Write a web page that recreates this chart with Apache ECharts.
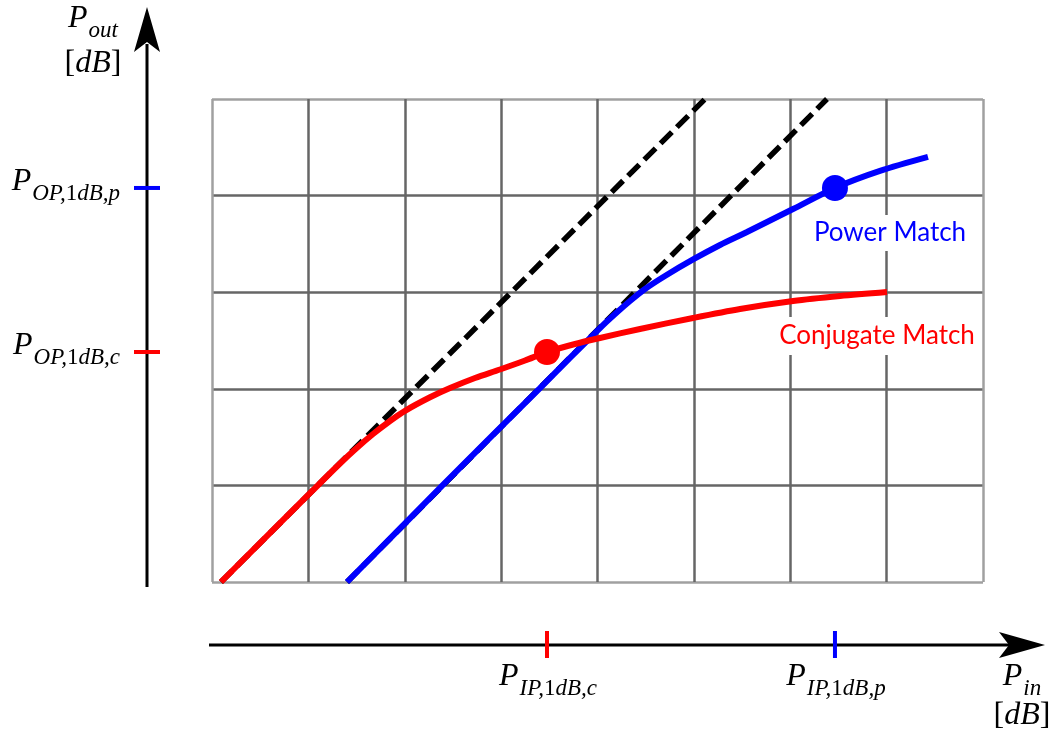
<!DOCTYPE html>
<html>
<head>
<meta charset="utf-8">
<script src="https://cdn.jsdelivr.net/npm/echarts@6/dist/echarts.min.js"></script>
<style>
html, body { margin: 0; padding: 0; background: #fff; }
#chart { width: 1053px; height: 738px; }
</style>
</head>
<body>
<div id="chart"></div>
<script>
// Output power vs. input power for two matching conditions (grid units).
const conjX = [0.093, 1.048, 1.328, 1.484, 1.671, 1.847, 2.003, 2.262, 2.470, 2.729, 2.988, 3.248, 3.476, 3.767, 4.026, 4.441, 4.991, 5.479, 6.029, 6.516, 7.004];
const conjY = [0, 0.951, 1.227, 1.372, 1.532, 1.667, 1.772, 1.912, 2.008, 2.112, 2.200, 2.293, 2.381, 2.464, 2.526, 2.619, 2.733, 2.826, 2.909, 2.961, 3.002];
const powX = [1.401, 2.386, 3.403, 4.026, 4.182, 4.337, 4.493, 4.700, 5.001, 5.271, 5.551, 6.029, 6.464, 6.931, 7.429];
const powY = [0, 0.994, 2.008, 2.629, 2.774, 2.909, 3.033, 3.168, 3.344, 3.489, 3.623, 3.861, 4.079, 4.255, 4.400];

// Small-signal (linear gain) extrapolations
const linConjX = [0.093, 5.116];
const linConjY = [0, 5];
const linPowX = [1.401, 6.381];
const linPowY = [0, 5];

// 1 dB compression points: [conjugate, power]
const p1dbIn = [3.476, 6.464];
const p1dbOut = [2.381, 4.079];

const seriesNames = ['Conjugate Match', 'Power Match'];
const inLabels = [['IP,', '1', 'dB,c'], ['IP,', '1', 'dB,p']];
const outLabels = [['OP,', '1', 'dB,c'], ['OP,', '1', 'dB,p']];

const RED = '#ff0000';
const BLUE = '#0000ff';
const pair = (xs, ys) => xs.map((x, i) => [x, ys[i]]);

const chart = echarts.init(document.getElementById('chart'), null, { renderer: 'canvas' });

const gridColors = (n) => Array.from({ length: n + 1 }, (_, i) => (i === 0 || i === n) ? '#a0a0a0' : '#666666');

chart.setOption({
  animation: false,
  backgroundColor: '#fff',
  grid: { left: 212, top: 99, width: 771, height: 483, show: false },
  xAxis: {
    type: 'value', min: 0, max: 8, interval: 1,
    axisLine: { show: false }, axisTick: { show: false }, axisLabel: { show: false },
    splitLine: { show: true, lineStyle: { color: gridColors(8), width: 2.5 } }
  },
  yAxis: {
    type: 'value', min: 0, max: 5, interval: 1,
    axisLine: { show: false }, axisTick: { show: false }, axisLabel: { show: false },
    splitLine: { show: true, lineStyle: { color: gridColors(5), width: 2.5 } }
  },
  series: [
    {
      type: 'line', data: pair(linConjX, linConjY), symbol: 'none', z: 2,
      lineStyle: { color: '#000', width: 5.5, type: [16, 7] }
    },
    {
      type: 'line', data: pair(linPowX, linPowY), symbol: 'none', z: 2,
      lineStyle: { color: '#000', width: 5.5, type: [16, 7] }
    },
    {
      name: seriesNames[1], type: 'line', data: pair(powX, powY), symbol: 'none',
      smooth: 0.3, z: 3,
      lineStyle: { color: BLUE, width: 6, cap: 'butt' }
    },
    {
      name: seriesNames[0], type: 'line', data: pair(conjX, conjY), symbol: 'none',
      smooth: 0.3, z: 4,
      lineStyle: { color: RED, width: 6, cap: 'butt' }
    },
    {
      type: 'scatter', z: 5, symbolSize: 26,
      data: [
        { value: [p1dbIn[0], p1dbOut[0]], itemStyle: { color: RED, opacity: 1 } },
        { value: [p1dbIn[1], p1dbOut[1]], itemStyle: { color: BLUE, opacity: 1 } }
      ]
    }
  ]
});

// Axes with arrow heads, 1 dB tick marks and math-style labels
const serif = 'Liberation Serif';
const rich = {
  P: { fontFamily: serif, fontStyle: 'italic', fontSize: 32, lineHeight: 32, verticalAlign: 'bottom', padding: [0, 1, 7, 0], color: '#000' },
  s: { fontFamily: serif, fontStyle: 'italic', fontSize: 23, lineHeight: 23, verticalAlign: 'bottom', color: '#000' },
  r: { fontFamily: serif, fontSize: 23, lineHeight: 23, verticalAlign: 'bottom', color: '#000' },
  u: { fontFamily: serif, fontSize: 32, lineHeight: 34, color: '#000' },
  i: { fontFamily: serif, fontStyle: 'italic', fontSize: 32, lineHeight: 34, color: '#000' }
};
const sub = (parts) => `{P|P}{s|${parts[0]}}{r|${parts[1]}}{s|${parts[2]}}`;
const dBText = '{u|[}{i|dB}{u|]}';

const origin = chart.convertToPixel({ gridIndex: 0 }, [0, 0]);
const axisX = origin[0] - 65;
const axisY = origin[1] + 63;
const colors = [RED, BLUE];

const g = [];
// vertical axis
g.push({ type: 'line', shape: { x1: axisX, y1: origin[1] + 5, x2: axisX, y2: 44 }, style: { stroke: '#000', lineWidth: 3 } });
g.push({ type: 'polygon', shape: { points: [[axisX, 7], [axisX + 13, 52], [axisX, 42], [axisX - 13, 52]] }, style: { fill: '#000' } });
// horizontal axis
g.push({ type: 'line', shape: { x1: origin[0] - 3, y1: axisY, x2: 1012, y2: axisY }, style: { stroke: '#000', lineWidth: 3 } });
g.push({ type: 'polygon', shape: { points: [[1045, axisY], [999, axisY + 13], [1009, axisY], [999, axisY - 13]] }, style: { fill: '#000' } });

for (let k = 0; k < 2; k++) {
  const px = chart.convertToPixel({ gridIndex: 0 }, [p1dbIn[k], p1dbOut[k]]);
  g.push({ type: 'line', z: 10, shape: { x1: axisX - 13, y1: px[1], x2: axisX + 13, y2: px[1] }, style: { stroke: colors[k], lineWidth: 4 } });
  g.push({ type: 'line', z: 10, shape: { x1: px[0], y1: axisY - 14, x2: px[0], y2: axisY + 13 }, style: { stroke: colors[k], lineWidth: 4 } });
  g.push({ type: 'text', x: axisX - 27, y: px[1] + 1, style: { text: sub(outLabels[k]), rich, align: 'right', verticalAlign: 'middle' } });
  g.push({ type: 'text', x: px[0] + 1, y: axisY + 39, style: { text: sub(inLabels[k]), rich, align: 'center', verticalAlign: 'middle' } });
}
// axis titles
g.push({ type: 'text', x: 93, y: 26, style: { text: '{P|P}{s|out}', rich, align: 'center', verticalAlign: 'middle' } });
g.push({ type: 'text', x: 93, y: 64, style: { text: dBText, rich, align: 'center', verticalAlign: 'middle' } });
g.push({ type: 'text', x: 1022, y: 684, style: { text: '{P|P}{s|in}', rich, align: 'center', verticalAlign: 'middle' } });
g.push({ type: 'text', x: 1022, y: 716, style: { text: dBText, rich, align: 'center', verticalAlign: 'middle' } });

// curve names with white boxes over the grid
g.push({ type: 'text', x: 890, y: 233, z: 1, style: { text: seriesNames[1], fontFamily: 'Lato', fontSize: 26, fill: BLUE, align: 'center', verticalAlign: 'middle', backgroundColor: '#fff', padding: [5, 4] } });
g.push({ type: 'text', x: 877, y: 336, z: 1, style: { text: seriesNames[0], fontFamily: 'Lato', fontSize: 26, fill: RED, align: 'center', verticalAlign: 'middle', backgroundColor: '#fff', padding: [6, 4] } });

chart.setOption({ graphic: g });
</script>
</body>
</html>
